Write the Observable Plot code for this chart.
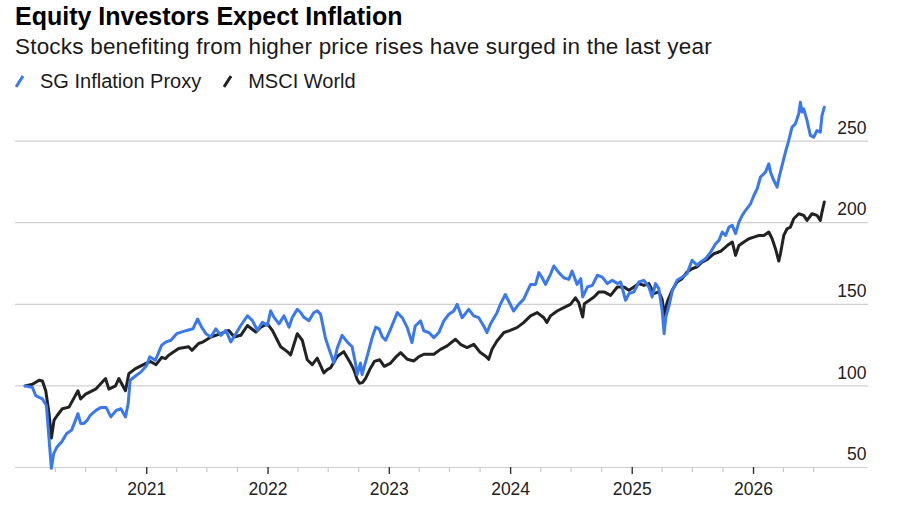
<!DOCTYPE html>
<html><head><meta charset="utf-8">
<script src="https://cdn.jsdelivr.net/npm/d3@7"></script>
<script src="https://cdn.jsdelivr.net/npm/@observablehq/plot@0.6"></script>
<style>
html,body{margin:0;padding:0;background:#fff;}
#wrap{position:relative;width:900px;height:510px;overflow:hidden;font-family:"Liberation Sans",Arial,Helvetica,sans-serif;}
.t{position:absolute;white-space:nowrap;line-height:1;}
#title{left:15px;top:4px;font-size:25px;font-weight:bold;color:#000;}
#sub{left:15px;top:36px;font-size:22.5px;letter-spacing:0.2px;color:#1a1a1a;}
#legend{left:15px;top:71px;font-size:20px;color:#1a1a1a;display:flex;align-items:center;}
#legend .it{display:flex;align-items:center;margin-right:22px;}
#legend svg{margin-right:16px;}
#chart{position:absolute;left:0;top:92px;}
</style></head>
<body><div id="wrap">
<div class="t" id="title">Equity Investors Expect Inflation</div>
<div class="t" id="sub">Stocks benefiting from higher price rises have surged in the last year</div>
<div class="t" id="legend"></div>
<div id="chart"></div>
</div>
<script>
const seriesNames = ["SG Inflation Proxy", "MSCI World"];
const seriesColors = ["#3a78f0", "#222222"];

const sgDates = ["2020-01-01","2020-01-23","2020-02-02","2020-02-12","2020-02-22","2020-03-05","2020-03-12","2020-03-20","2020-03-27","2020-04-06","2020-04-20","2020-05-05","2020-05-20","2020-06-08","2020-06-16","2020-06-26","2020-07-06","2020-07-15","2020-08-01","2020-08-15","2020-09-01","2020-09-15","2020-10-01","2020-10-15","2020-10-29","2020-11-06","2020-11-12","2020-12-01","2020-12-15","2021-01-01","2021-01-10","2021-01-27","2021-02-15","2021-03-01","2021-03-15","2021-04-01","2021-05-01","2021-05-20","2021-06-03","2021-06-15","2021-06-28","2021-07-13","2021-07-28","2021-08-12","2021-08-27","2021-09-11","2021-09-26","2021-10-11","2021-10-31","2021-11-15","2021-11-30","2021-12-15","2021-12-30","2022-01-09","2022-01-19","2022-02-03","2022-02-18","2022-03-05","2022-03-15","2022-03-30","2022-04-09","2022-04-19","2022-05-04","2022-05-19","2022-05-29","2022-06-08","2022-06-23","2022-07-08","2022-07-18","2022-07-28","2022-08-12","2022-08-27","2022-09-11","2022-09-21","2022-09-26","2022-10-06","2022-10-11","2022-10-26","2022-11-11","2022-11-21","2022-12-01","2022-12-11","2022-12-21","2023-01-05","2023-01-25","2023-02-09","2023-02-24","2023-03-10","2023-03-20","2023-04-05","2023-04-15","2023-04-30","2023-05-15","2023-05-30","2023-06-14","2023-06-29","2023-07-14","2023-07-24","2023-08-08","2023-08-28","2023-09-12","2023-09-27","2023-10-12","2023-10-22","2023-11-01","2023-11-21","2023-12-01","2023-12-16","2023-12-26","2024-01-10","2024-01-25","2024-02-09","2024-03-01","2024-03-16","2024-03-26","2024-04-05","2024-04-15","2024-04-30","2024-05-10","2024-05-25","2024-06-09","2024-06-24","2024-07-04","2024-07-19","2024-07-30","2024-08-05","2024-08-19","2024-09-03","2024-09-18","2024-10-03","2024-10-18","2024-11-02","2024-11-17","2024-11-27","2024-12-12","2024-12-22","2025-01-06","2025-01-21","2025-02-05","2025-02-20","2025-03-02","2025-03-12","2025-03-22","2025-04-01","2025-04-07","2025-04-12","2025-04-22","2025-05-02","2025-05-16","2025-06-01","2025-06-15","2025-06-30","2025-07-15","2025-07-26","2025-08-10","2025-08-25","2025-09-09","2025-09-19","2025-09-29","2025-10-09","2025-10-19","2025-10-29","2025-11-08","2025-11-18","2025-11-28","2025-12-08","2025-12-23","2026-01-02","2026-01-12","2026-01-22","2026-02-06","2026-02-16","2026-02-21","2026-03-03","2026-03-13","2026-03-18","2026-03-28","2026-04-07","2026-04-17","2026-04-27","2026-05-07","2026-05-17","2026-05-22","2026-05-27","2026-06-01","2026-06-11","2026-06-21","2026-07-01","2026-07-11","2026-07-21","2026-07-26","2026-08-02"];
const sgValues = [100,99,94,93,92,88,70,49.5,58.5,62.6,65.7,70.8,72.9,83,77,77,79,82,85,86.7,86.7,81,85,86,81,89,103.5,106.5,108.6,112.7,117.8,115.7,125,127,128,132,134,135,141,136,132,130,135,131,134,127,132,137,143,140,134,139,137,146,142,138,143,136,142,147,145,142,140,145,146,144,129,120,114,123,131,127,124,114,107,114,107,118,130,136,135,130,128,135,144.9,141.8,135.7,126.5,136.7,139.8,133.7,132.7,129.6,132.7,139.8,143.9,145.9,150,141.8,146.9,142.9,141.8,136.7,132.7,137.8,144.9,150,156,152,145.9,150,153,162.2,162.2,169.4,166.3,162.2,168.4,173.5,169.4,166.3,165.3,170.4,162.2,165.7,154.5,160.6,161.6,167.8,166.7,162.7,164.7,162.7,163.7,152.4,156.5,157.6,163.7,164.7,160.6,154.5,162.7,159.6,146.3,132,142.2,149.4,158.6,164.7,166.7,168.8,177,173.9,176,178,182,187.1,189.2,194.3,192.2,197.3,198.4,193.3,200.4,204.5,207.6,211.6,216.7,220.8,228,231,236.1,231,225.9,221.8,227,235.1,243.3,250.4,258.6,260.6,266.7,273.9,267.8,269.8,262.7,253.5,252.4,256.5,255.5,265.7,270.8];

const msciDates = ["2020-01-01","2020-01-23","2020-02-12","2020-02-22","2020-03-03","2020-03-13","2020-03-20","2020-03-28","2020-04-07","2020-04-22","2020-05-12","2020-06-08","2020-06-16","2020-07-01","2020-07-31","2020-08-30","2020-09-09","2020-09-29","2020-10-09","2020-10-29","2020-11-08","2020-11-28","2020-12-28","2021-01-12","2021-01-29","2021-02-15","2021-02-26","2021-03-08","2021-04-07","2021-05-07","2021-05-17","2021-06-06","2021-06-20","2021-07-13","2021-08-12","2021-09-05","2021-09-21","2021-10-11","2021-10-31","2021-11-25","2021-12-10","2021-12-30","2022-01-14","2022-02-08","2022-02-28","2022-03-10","2022-03-30","2022-04-14","2022-04-29","2022-05-14","2022-05-29","2022-06-18","2022-06-28","2022-07-08","2022-07-28","2022-08-17","2022-09-06","2022-09-16","2022-09-26","2022-10-03","2022-10-12","2022-10-22","2022-11-03","2022-11-17","2022-12-03","2022-12-17","2023-01-05","2023-01-22","2023-02-04","2023-02-24","2023-03-16","2023-03-31","2023-04-15","2023-05-15","2023-06-04","2023-06-24","2023-07-19","2023-08-03","2023-08-23","2023-09-12","2023-10-02","2023-10-17","2023-10-27","2023-11-06","2023-11-21","2023-12-12","2023-12-27","2024-01-20","2024-02-09","2024-03-01","2024-03-21","2024-04-10","2024-04-19","2024-04-30","2024-05-20","2024-06-09","2024-06-29","2024-07-14","2024-07-24","2024-08-05","2024-08-10","2024-08-24","2024-09-08","2024-09-23","2024-10-08","2024-10-28","2024-11-17","2024-12-07","2024-12-22","2025-01-06","2025-01-21","2025-02-05","2025-02-20","2025-03-07","2025-03-22","2025-04-01","2025-04-08","2025-04-16","2025-05-01","2025-05-16","2025-05-31","2025-06-15","2025-06-30","2025-07-15","2025-07-30","2025-08-15","2025-09-04","2025-09-24","2025-10-14","2025-10-29","2025-11-08","2025-11-18","2025-12-03","2025-12-18","2026-01-02","2026-01-17","2026-02-01","2026-02-16","2026-02-26","2026-03-08","2026-03-18","2026-03-23","2026-04-02","2026-04-12","2026-04-22","2026-05-02","2026-05-17","2026-06-01","2026-06-11","2026-06-26","2026-07-11","2026-07-21","2026-07-26","2026-08-02"];
const msciValues = [100,101,103.5,103,97,83,68,79,82,86,87,97,92,95,98,104.5,98,100,104.5,97,107.5,110.6,113.7,115,113,117.5,116.7,118.8,122.9,124,121.8,126,127,130,132,134,130,131,137,133,136,138,134,124,121,119,132,128,116,113,117,108,110,111,118,121,114,110,104,101.6,102,104.7,110,115,116,112,114,118,120.4,116.3,115.3,118,119.4,119.4,122.4,124.5,128.6,125.5,123.5,125.5,120.4,118.4,116.3,122.4,127.5,132.7,133.7,135.7,138.8,142.9,144.9,141.8,138.8,142.9,145.9,148,150,154,151,142.2,150.4,152.4,154.5,157.6,157.6,155.5,160.6,160.6,158.6,160.6,162.7,161.6,162.7,156.5,157.6,153,143.3,151.4,158.6,163.7,165.7,169.8,171.8,172.9,175.9,177.5,181,182.5,186,188.2,180,186.1,188.2,190.2,191.2,192.2,192.2,194.3,190.2,184.1,176.5,181,192.2,196.3,197.3,202.4,205.5,204.5,201.4,205.5,204.5,201.4,206.5,212.7];

const yTicks = [50, 100, 150, 200, 250];
const yearTicks = ["2021-01-01","2022-01-01","2023-01-01","2024-01-01","2025-01-01","2026-01-01"];
const quarterTicks = ["2020-04-01","2020-07-01","2020-10-01","2021-04-01","2021-07-01","2021-10-01","2022-04-01","2022-07-01","2022-10-01","2023-04-01","2023-07-01","2023-10-01","2024-04-01","2024-07-01","2024-10-01","2025-04-01","2025-07-01","2025-10-01","2026-04-01","2026-07-01"];

const parse = d3.utcParse("%Y-%m-%d");
const sg = sgDates.map((d, i) => ({date: parse(d), value: sgValues[i], series: seriesNames[0]}));
const msci = msciDates.map((d, i) => ({date: parse(d), value: msciValues[i], series: seriesNames[1]}));

// legend
const leg = document.getElementById("legend");
seriesNames.forEach((name, i) => {
  const it = document.createElement("span");
  it.className = "it";
  it.innerHTML = `<svg width="9" height="13" viewBox="0 0 9 13"><line x1="1" y1="12" x2="8" y2="1" stroke="${seriesColors[i]}" stroke-width="3"/></svg><span>${name}</span>`;
  leg.appendChild(it);
});

const font = '"Liberation Sans", Arial, Helvetica, sans-serif';
const chart = Plot.plot({
  width: 900,
  height: 418,
  marginLeft: 15,
  marginRight: 32,
  marginTop: 0,
  marginBottom: 43,
  style: {fontFamily: font, background: "#fff", overflow: "visible"},
  x: {type: "utc", domain: [parse("2019-12-03"), parse("2026-12-13")], axis: null},
  y: {domain: [50, 279.8], axis: null},
  marks: [
    Plot.ruleY(yTicks, {stroke: "#cfcfcf", strokeWidth: 1.2}),
    Plot.axisX(quarterTicks.map(parse), {tickSize: 5, tickFormat: () => "", stroke: "#c8c8c8", strokeWidth: 1.2}),
    Plot.axisX(yearTicks.map(parse), {tickSize: 7, tickPadding: 8, tickFormat: d3.utcFormat("%Y"), stroke: "#333", strokeWidth: 1.4, fontSize: 17.5, fill: "#222"}),
    Plot.text(yTicks, {y: d => d, text: d => String(d), frameAnchor: "right", textAnchor: "end", dx: -2, dy: -13, fontSize: 17.5, fill: "#222"}),
    Plot.line(msci, {x: "date", y: "value", stroke: seriesColors[1], strokeWidth: 3, curve: "linear"}),
    Plot.line(sg, {x: "date", y: "value", stroke: seriesColors[0], strokeWidth: 3, curve: "linear"})
  ]
});
document.getElementById("chart").appendChild(chart);
</script>
</body></html>
